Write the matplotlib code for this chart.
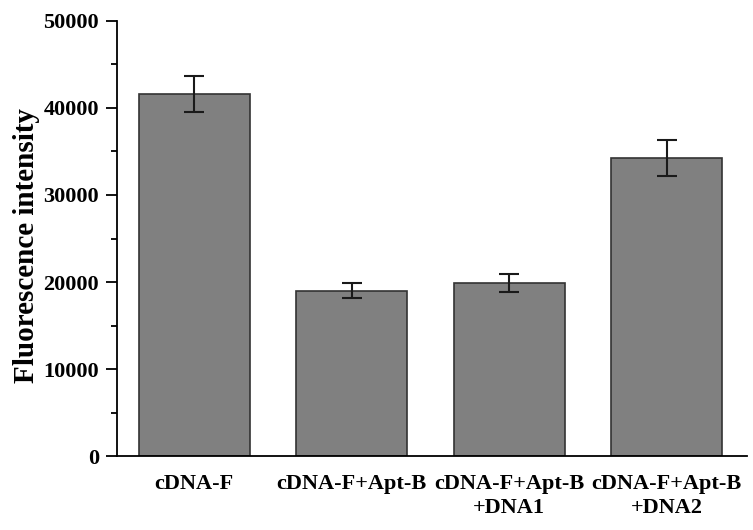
import matplotlib
matplotlib.use('Agg')
import matplotlib.pyplot as plt
from matplotlib.ticker import MultipleLocator

# data
labels = ['cDNA-F', 'cDNA-F+Apt-B', 'cDNA-F+Apt-B\n+DNA1', 'cDNA-F+Apt-B\n+DNA2']
values = [41600, 19000, 19900, 34250]
errors = [2100, 850, 1050, 2050]

plt.rcParams['font.family'] = ['Liberation Serif', 'DejaVu Serif']
plt.rcParams['font.weight'] = 'bold'

fig = plt.figure(figsize=(7.53, 5.30), dpi=100)
ax = fig.add_axes([0.1554, 0.1396, 0.8366, 0.8208])

x = list(range(len(values)))
ax.bar(x, values, width=0.705, color='#808080', edgecolor='#333333', linewidth=1.2,
       yerr=errors, capsize=7, error_kw={'ecolor': '#1a1a1a', 'elinewidth': 1.5, 'capthick': 1.5})

ax.set_xlim(-0.49, 3.51)
ax.set_ylim(0, 50000)
ax.yaxis.set_major_locator(MultipleLocator(10000))
ax.yaxis.set_minor_locator(MultipleLocator(5000))
ax.set_xticks(x)
ax.set_xticklabels(labels, fontsize=16, fontweight='bold', linespacing=1.25)
ax.tick_params(axis='x', length=0, pad=13)
ax.tick_params(axis='y', which='major', length=8, width=1.3, labelsize=16, direction='out', pad=5)
ax.tick_params(axis='y', which='minor', length=4, width=1.3, direction='out')
for lab in ax.get_yticklabels():
    lab.set_fontweight('bold')

ax.spines['top'].set_visible(False)
ax.spines['right'].set_visible(False)
ax.spines['left'].set_linewidth(1.3)
ax.spines['bottom'].set_linewidth(1.3)

ax.set_ylabel('Fluorescence intensity', fontsize=21, fontweight='bold', labelpad=4)
ax.yaxis.set_label_coords(-0.122, 0.483)

fig.savefig('out.png', dpi=100)
